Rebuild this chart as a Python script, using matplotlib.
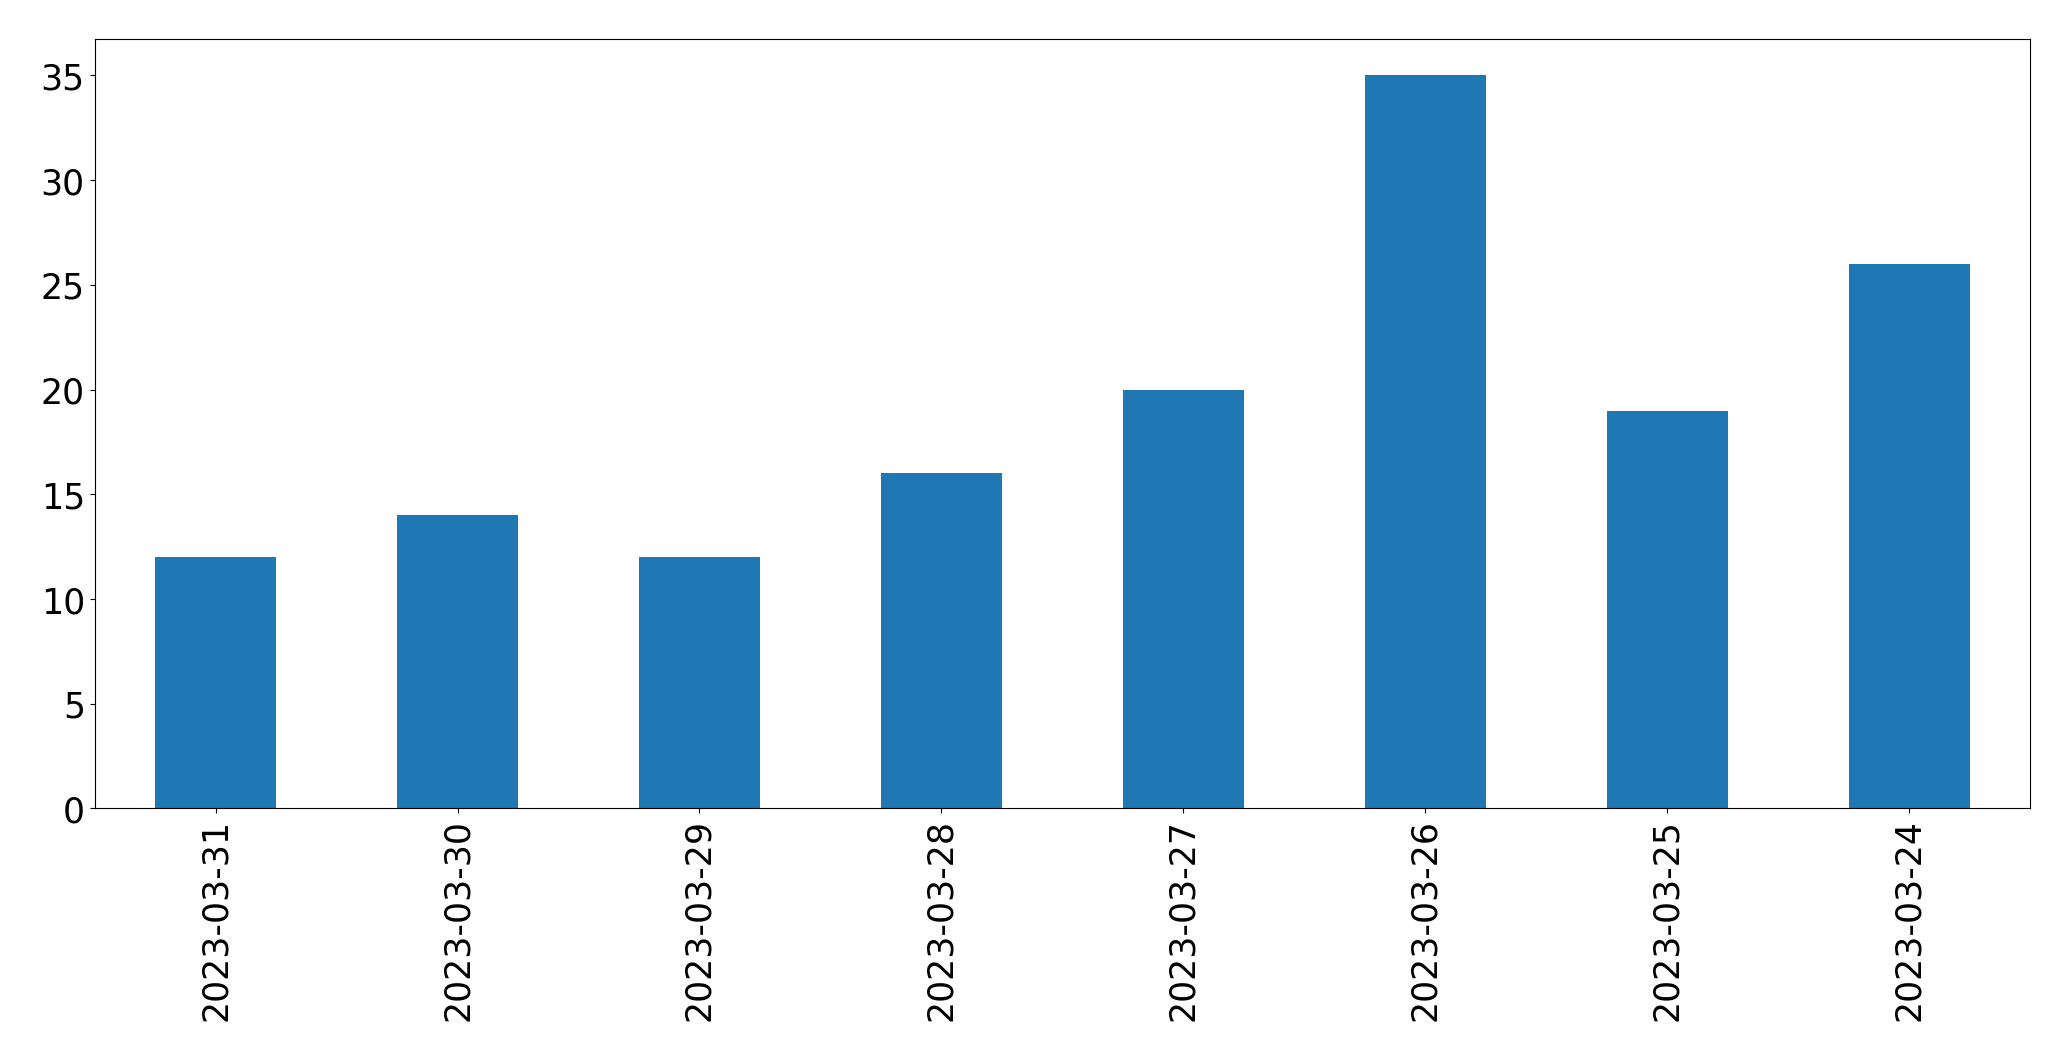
import matplotlib
matplotlib.use("Agg")
import matplotlib.pyplot as plt

dates = ["2023-03-31", "2023-03-30", "2023-03-29", "2023-03-28",
         "2023-03-27", "2023-03-26", "2023-03-25", "2023-03-24"]
counts = [12, 14, 12, 16, 20, 35, 19, 26]

fig = plt.figure(figsize=(20.71, 10.605), dpi=100)
ax = fig.add_axes([0.0457, 0.2372, 0.9345, 0.7258])
x = list(range(len(dates)))
ax.bar(x, counts, width=0.5, color="#1f77b4")
ax.set_xlim(-0.5, len(dates) - 0.5)
ax.set_ylim(0, max(counts) * 1.05)
ax.set_xticks(x)
ax.set_xticklabels(dates, rotation=90)
ax.tick_params(axis="both", labelsize=25)
fig.savefig("out.png", dpi=100)
